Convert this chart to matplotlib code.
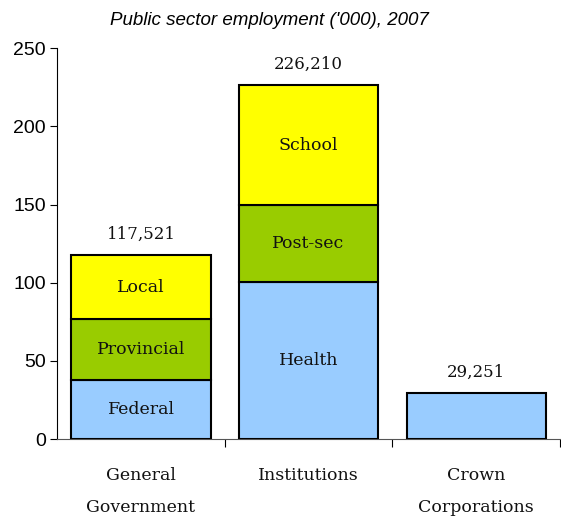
import matplotlib.pyplot as plt
import numpy as np

# data ('000)
categories = ["General\nGovernment", "Institutions", "Crown\nCorporations"]
layer1_names = ["Federal", "Health", ""]
layer1_vals = [37.7, 100.3, 29.251]
layer2_names = ["Provincial", "Post-sec", ""]
layer2_vals = [38.8, 49.1, 0]
layer3_names = ["Local", "School", ""]
layer3_vals = [41.021, 76.81, 0]
totals = ["117,521", "226,210", "29,251"]

colors = ["#99CCFF", "#99CC00", "#FFFF00"]
serif = ["DejaVu Serif"]
sans = ["Liberation Sans", "DejaVu Sans"]


def main():
    fig = plt.figure(figsize=(5.61, 5.18), dpi=100)
    ax = fig.add_axes([0.102, 0.1525, 0.896, 0.7545])

    x = np.arange(len(categories))
    width = 0.83
    bottom = np.zeros(len(categories))
    layers = [(layer1_vals, layer1_names), (layer2_vals, layer2_names), (layer3_vals, layer3_names)]
    for (vals, names), col in zip(layers, colors):
        vals = np.array(vals)
        mask = vals > 0
        ax.bar(x[mask], vals[mask], width, bottom=bottom[mask], color=col,
               edgecolor="black", linewidth=1.5, zorder=3)
        for xi, v, b, n in zip(x, vals, bottom, names):
            if n:
                ax.text(xi, b + v / 2, n, ha="center", va="center",
                        fontsize=12.5, family=serif, color="#111111", zorder=4)
        bottom = bottom + vals

    for xi, top, lab in zip(x, bottom, totals):
        ax.text(xi, top + 8, lab, ha="center", va="bottom", fontsize=12,
                family=serif, color="#111111")

    ax.set_xlim(-0.5, 2.5)
    ax.set_ylim(0, 250)
    ax.set_yticks(range(0, 251, 50))
    ax.tick_params(axis="y", labelsize=14, length=5, width=0.8, pad=3)
    for lab in ax.get_yticklabels():
        lab.set_family(sans)

    ax.set_xticks(x)
    ax.set_xticklabels([])
    ax.tick_params(axis="x", which="major", length=0)
    ax.set_xticks([0.5, 1.5, 2.5], minor=True)
    ax.tick_params(axis="x", which="minor", length=6, width=0.8)
    for xi, lab in zip(x, categories):
        ax.text(xi, -18, lab, ha="center", va="top", fontsize=12.5,
                family=serif, linespacing=2.15, color="#111111")

    for s in ["top", "right"]:
        ax.spines[s].set_visible(False)
    ax.spines["left"].set_linewidth(0.8)
    ax.spines["bottom"].set_linewidth(0.8)
    ax.spines["bottom"].set_color("#555555")

    fig.text(0.481, 0.961, "Public sector employment ('000), 2007", ha="center",
             va="center", fontsize=13.5, style="italic", family=sans)

    fig.savefig("out.png", dpi=100)
    plt.close(fig)


if __name__ == "__main__":
    main()
